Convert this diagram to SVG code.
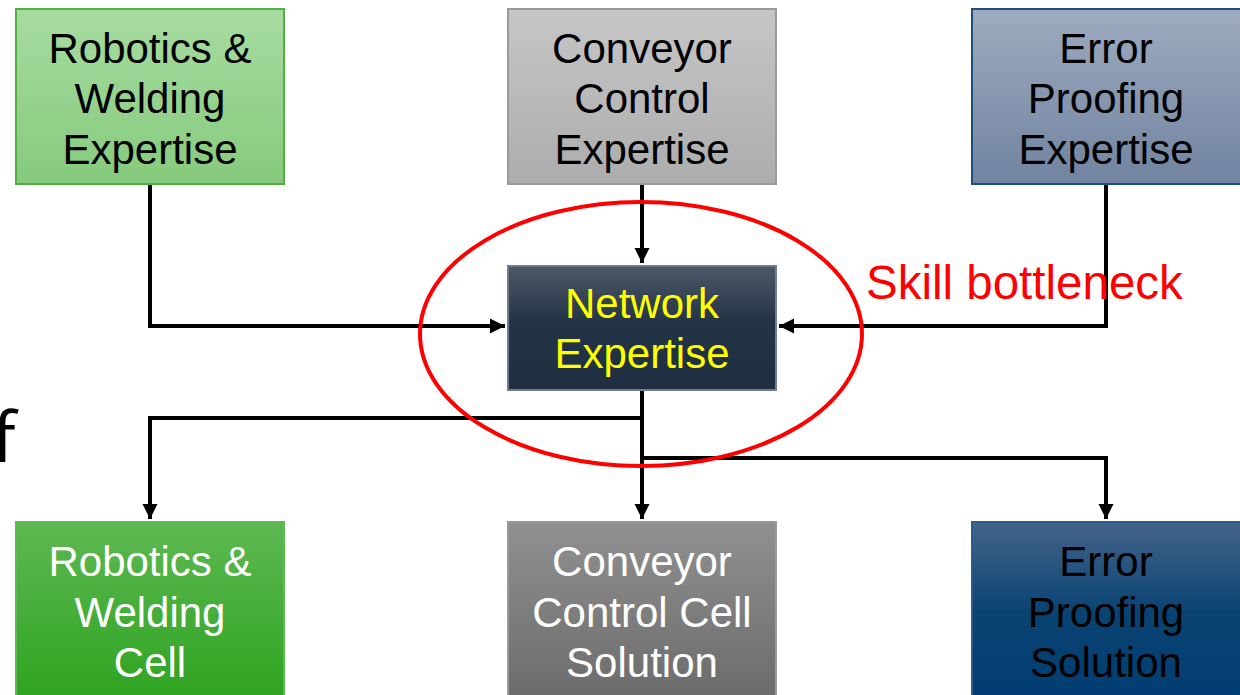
<svg xmlns="http://www.w3.org/2000/svg" width="1240" height="695" viewBox="0 0 1240 695">
<defs>
<linearGradient id="gRobE" x1="0" y1="0" x2="0" y2="1"><stop offset="0" stop-color="#a7dca1"/><stop offset="1" stop-color="#86ca7c"/></linearGradient>
<linearGradient id="gConE" x1="0" y1="0" x2="0" y2="1"><stop offset="0" stop-color="#c6c6c6"/><stop offset="1" stop-color="#adadad"/></linearGradient>
<linearGradient id="gErrE" x1="0" y1="0" x2="0" y2="1"><stop offset="0" stop-color="#9eabc0"/><stop offset="1" stop-color="#7183a0"/></linearGradient>
<linearGradient id="gNet" x1="0" y1="0" x2="0" y2="1"><stop offset="0" stop-color="#4c5866"/><stop offset="0.45" stop-color="#243447"/><stop offset="1" stop-color="#1f2f42"/></linearGradient>
<linearGradient id="gRobC" x1="0" y1="0" x2="0" y2="1"><stop offset="0" stop-color="#5db852"/><stop offset="1" stop-color="#2ea320"/></linearGradient>
<linearGradient id="gConC" x1="0" y1="0" x2="0" y2="1"><stop offset="0" stop-color="#909090"/><stop offset="1" stop-color="#6b6b6b"/></linearGradient>
<linearGradient id="gErrC" x1="0" y1="0" x2="0" y2="1"><stop offset="0" stop-color="#44648a"/><stop offset="0.5" stop-color="#0a4373"/><stop offset="1" stop-color="#003d72"/></linearGradient>
<marker id="arr" viewBox="0 0 10 10" refX="10" refY="5" markerWidth="3.8" markerHeight="3.8" orient="auto" markerUnits="strokeWidth"><path d="M0,0 L10,5 L0,10 z" fill="#000"/></marker>
</defs>
<style>
.t{font-family:"Liberation Sans",Arial,sans-serif;font-size:42px;text-anchor:middle}
.c{fill:none;stroke:#000;stroke-width:4}
</style>
<rect width="1240" height="695" fill="#fff"/>
<g id="connectors">
<path class="c" d="M150,184 V326 H505" marker-end="url(#arr)"/>
<path class="c" d="M642,184 V263" marker-end="url(#arr)"/>
<path class="c" d="M1106,184 V326 H779" marker-end="url(#arr)"/>
<path class="c" d="M642,390 V519" marker-end="url(#arr)"/>
<path class="c" d="M642,418 H150 V519" marker-end="url(#arr)"/>
<path class="c" d="M642,458 H1106 V519" marker-end="url(#arr)"/>
</g>
<g id="robE"><rect x="16" y="9" width="268" height="175" fill="url(#gRobE)" stroke="#52b043" stroke-width="2"/>
<text class="t" x="150"><tspan x="150" y="63">Robotics &amp;</tspan><tspan x="150" y="113">Welding</tspan><tspan x="150" y="164">Expertise</tspan></text></g>
<g id="conE"><rect x="508" y="9" width="268" height="175" fill="url(#gConE)" stroke="#9a9a9a" stroke-width="2"/>
<text class="t"><tspan x="642" y="63">Conveyor</tspan><tspan x="642" y="113">Control</tspan><tspan x="642" y="164">Expertise</tspan></text></g>
<g id="errE"><rect x="972" y="9" width="270" height="175" fill="url(#gErrE)" stroke="#1f4e79" stroke-width="2"/>
<text class="t"><tspan x="1106" y="63">Error</tspan><tspan x="1106" y="113">Proofing</tspan><tspan x="1106" y="164">Expertise</tspan></text></g>
<g id="net"><rect x="508" y="266" width="268" height="124" fill="url(#gNet)" stroke="#6e7c8b" stroke-width="2"/>
<text class="t" fill="#ffff00"><tspan x="642" y="318">Network</tspan><tspan x="642" y="368">Expertise</tspan></text></g>
<g id="robC"><rect x="16" y="522" width="268" height="180" fill="url(#gRobC)" stroke="#5cbb4e" stroke-width="2"/>
<text class="t" fill="#fff"><tspan x="150" y="576">Robotics &amp;</tspan><tspan x="150" y="627">Welding</tspan><tspan x="150" y="677">Cell</tspan></text></g>
<g id="conC"><rect x="508" y="522" width="268" height="180" fill="url(#gConC)" stroke="#9a9a9a" stroke-width="2"/>
<text class="t" fill="#fff"><tspan x="642" y="576">Conveyor</tspan><tspan x="642" y="627">Control Cell</tspan><tspan x="642" y="677">Solution</tspan></text></g>
<g id="errC"><rect x="972" y="522" width="270" height="180" fill="url(#gErrC)" stroke="#2e5c8a" stroke-width="2"/>
<text class="t" fill="#000"><tspan x="1106" y="576">Error</tspan><tspan x="1106" y="627">Proofing</tspan><tspan x="1106" y="677">Solution</tspan></text></g>
<ellipse cx="641" cy="334" rx="221" ry="132" fill="none" stroke="#ff0000" stroke-width="4"/>
<text x="866" y="299" font-family="Liberation Sans,Arial,sans-serif" font-size="47.5" fill="#ff0000">Skill bottleneck</text>
<text x="-8" y="462" font-family="Open Sans,Liberation Sans,sans-serif" font-size="70" fill="#000">f</text>
</svg>
